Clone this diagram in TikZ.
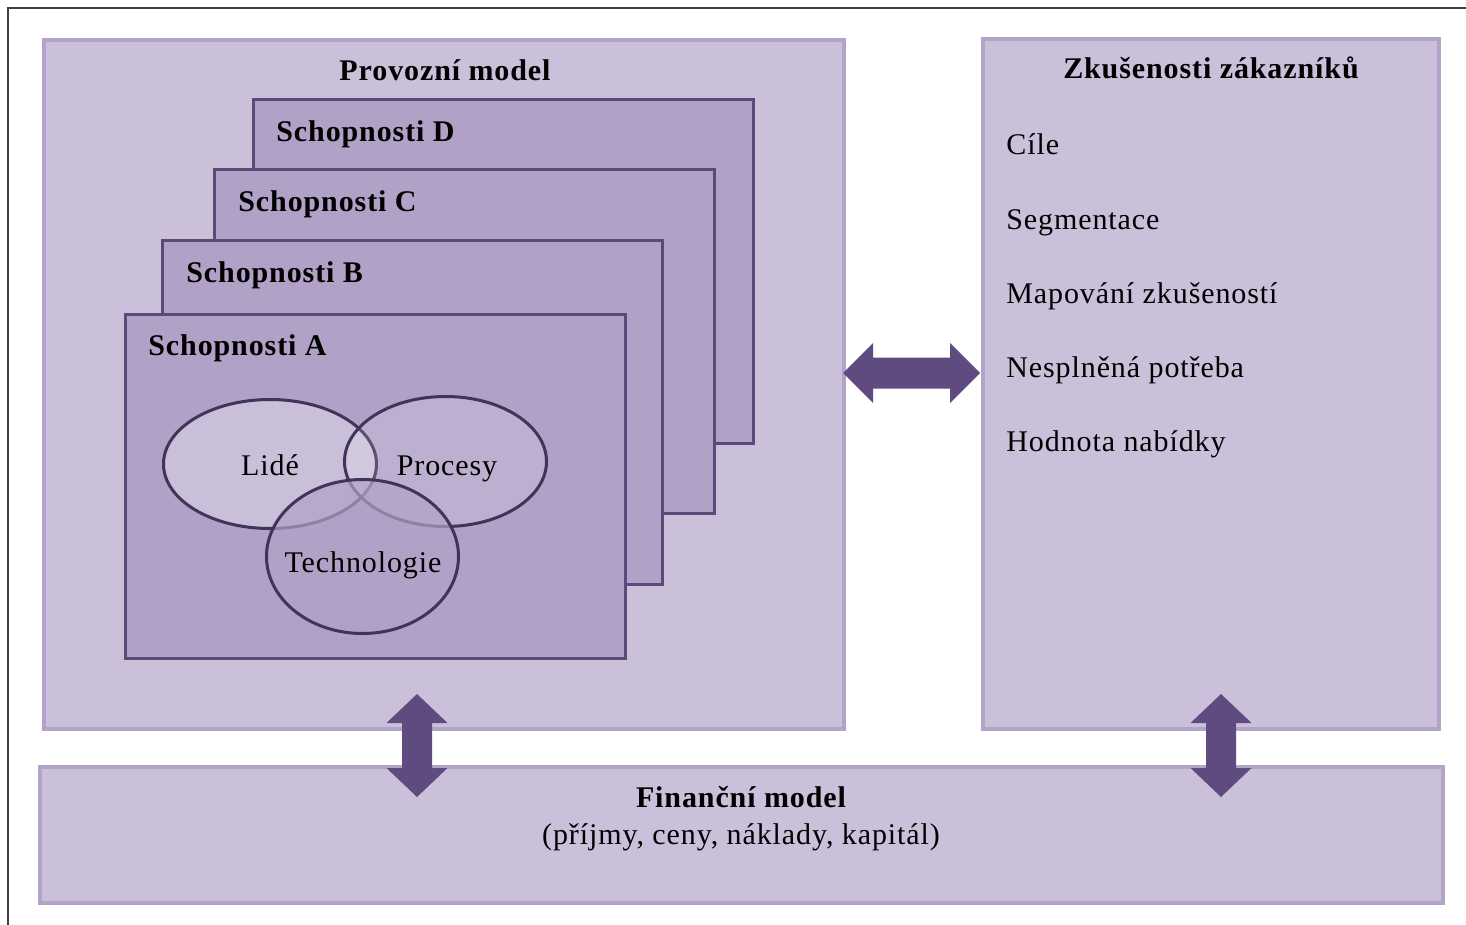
\documentclass[tikz,border=0pt]{standalone}
\usepackage{fontspec}
\setmainfont[LetterSpace=3]{Liberation Serif}
\usetikzlibrary{shapes.geometric}
\definecolor{panelfill}{HTML}{CBC0DA}
\definecolor{panelline}{HTML}{B3A3C9}
\definecolor{capfill}{HTML}{B1A1C7}
\definecolor{capline}{HTML}{5C4879}
\definecolor{ovalline}{HTML}{41335A}
\definecolor{arrowcol}{HTML}{5F4B80}
\definecolor{framecol}{HTML}{404040}
\begin{document}
\begin{tikzpicture}[x=0.5pt,y=-0.5pt,
  panel/.style={rectangle, draw=panelline, line width=2pt, fill=panelfill,
    inner sep=0pt, outer sep=0pt},
  capbox/.style={rectangle, draw=capline, line width=1.5pt, fill=capfill,
    inner sep=0pt, outer sep=0pt, minimum width=250pt, minimum height=172pt,
    anchor=north west},
  oval/.style={ellipse, draw=ovalline, line width=1.5pt, inner sep=0pt, outer sep=0pt},
  txt/.style={inner sep=0pt, text=black, font=\fontsize{15}{18}\selectfont},
  btxt/.style={txt, font=\fontsize{15}{18}\selectfont\bfseries},
  blockarrow/.style={fill=arrowcol}
]
\useasboundingbox (0,0) rectangle (1466,925);
\clip (0,0) rectangle (1466,925);
\fill[white] (0,0) rectangle (1466,925);

% outer frame (only its top and left edges fall inside the page)
\draw[framecol, line width=1pt] (8,960) -- (8,8) -- (1500,8);

% three main panels
\node[panel, minimum width=400pt, minimum height=344.5pt] (op) at (444,384.5) {};
\node[panel, minimum width=228pt, minimum height=345pt] (cx) at (1211,384) {};
\node[panel, minimum width=701.5pt, minimum height=68pt] (fin) at (741.5,835) {};

\node[btxt, anchor=base] (optitle) at (445,81) {Provozní model};

% stacked capability cards
\node[capbox] (capD) at (253.5,99.5) {};
\node[btxt, anchor=base west] (capDl) at (276,142) {Schopnosti D};
\node[capbox] (capC) at (214.5,169.5) {};
\node[btxt, anchor=base west] (capCl) at (238,212) {Schopnosti C};
\node[capbox] (capB) at (162.5,240.5) {};
\node[btxt, anchor=base west] (capBl) at (186,282) {Schopnosti B};
\node[capbox] (capA) at (125.5,314.5) {};
\node[btxt, anchor=base west] (capAl) at (148,355) {Schopnosti A};

% Venn diagram
\node[oval, fill=white, fill opacity=0.32, minimum width=106.5pt, minimum height=64.5pt] (people) at (270,464) {};
\node[oval, fill=white, fill opacity=0.15, minimum width=101pt, minimum height=65pt] (proc) at (445.5,461.5) {};
\node[oval, fill=capfill, fill opacity=0.7, minimum width=96pt, minimum height=77pt] (tech) at (362.5,556.5) {};
\node[txt, anchor=base] (peoplel) at (270,475) {Lidé};
\node[txt, anchor=base] (procl) at (447,475) {Procesy};
\node[txt, anchor=base] (techl) at (363,572) {Technologie};

% customer experience panel
\node[btxt, anchor=base] (cxtitle) at (1211,79) {Zkušenosti zákazníků};
\node[txt, anchor=base west] (cx1) at (1006,155) {Cíle};
\node[txt, anchor=base west] (cx2) at (1006,229) {Segmentace};
\node[txt, anchor=base west] (cx3) at (1006,303) {Mapování zkušeností};
\node[txt, anchor=base west] (cx4) at (1006,377) {Nesplněná potřeba};
\node[txt, anchor=base west] (cx5) at (1006,451) {Hodnota nabídky};

% financial model
\node[btxt, anchor=base] (fintitle) at (741,807) {Finanční model};
\node[txt, anchor=base] (finsub) at (741,844) {(příjmy, ceny, náklady, kapitál)};

% block arrows between the panels
\coordinate (hl) at (843,373);
\fill[blockarrow] (hl) -- ++(30,-30) -- ++(0,14.5) -- ++(77,0) -- ++(0,-14.5)
  -- ++(30,30) -- ++(-30,30) -- ++(0,-14.5) -- ++(-77,0) -- ++(0,14.5) -- cycle;

\coordinate (vl) at (417,694);
\fill[blockarrow] (vl) -- ++(30.5,29) -- ++(-15.5,0) -- ++(0,45) -- ++(15.5,0)
  -- ++(-30.5,29) -- ++(-30.5,-29) -- ++(15.5,0) -- ++(0,-45) -- ++(-15.5,0) -- cycle;

\coordinate (vr) at (1221,694);
\fill[blockarrow] (vr) -- ++(30.5,29) -- ++(-15.5,0) -- ++(0,45) -- ++(15.5,0)
  -- ++(-30.5,29) -- ++(-30.5,-29) -- ++(15.5,0) -- ++(0,-45) -- ++(-15.5,0) -- cycle;
\end{tikzpicture}
\end{document}
